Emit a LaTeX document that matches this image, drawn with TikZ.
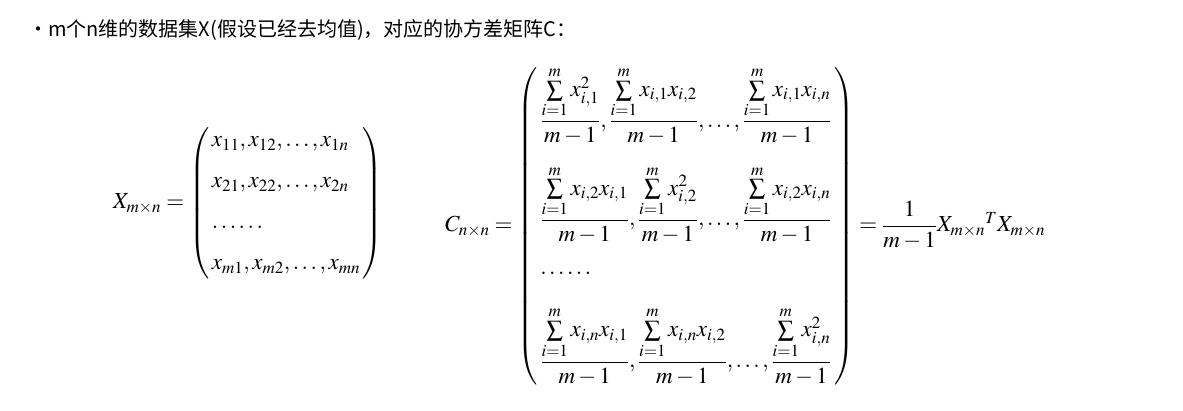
\documentclass[tikz,border=0pt]{standalone}
\usepackage{amsmath}
\usepackage{mathptmx}
\usepackage{fontspec}
\newfontfamily\cjk{Noto Sans CJK SC}
\begin{document}
\begin{tikzpicture}[x=1pt,y=-1pt,
  eq/.style={inner sep=0pt,font=\fontsize{23}{27}\selectfont}]
\useasboundingbox (0,0) rectangle (1183,411);
\node[anchor=west,inner sep=0pt,font=\cjk\fontsize{20}{24}\selectfont] (title) at (28,30) {•m个n维的数据集X(假设已经去均值)，对应的协方差矩阵C：};
\node[eq,anchor=west] (X) at (113,203) {$X_{m\times n}=\left(\begin{array}{@{\,}l@{\,}}
x_{11},x_{12},\ldots,x_{1n}\\[14pt]
x_{21},x_{22},\ldots,x_{2n}\\[14pt]
\ldots\ldots\\[14pt]
x_{m1},x_{m2},\ldots,x_{mn}
\end{array}\right)$};
\node[eq,anchor=west] (C) at (445,226) {$C_{n\times n}=\left(\begin{array}{@{\,}l@{\,}}
\dfrac{\sum\limits_{i=1}^{m}x_{i,1}^{2}}{m-1},\dfrac{\sum\limits_{i=1}^{m}x_{i,1}x_{i,2}}{m-1},\ldots,\dfrac{\sum\limits_{i=1}^{m}x_{i,1}x_{i,n}}{m-1}\\[30pt]
\dfrac{\sum\limits_{i=1}^{m}x_{i,2}x_{i,1}}{m-1},\dfrac{\sum\limits_{i=1}^{m}x_{i,2}^{2}}{m-1},\ldots,\dfrac{\sum\limits_{i=1}^{m}x_{i,2}x_{i,n}}{m-1}\\[22pt]
\ldots\ldots\\[24pt]
\dfrac{\sum\limits_{i=1}^{m}x_{i,n}x_{i,1}}{m-1},\dfrac{\sum\limits_{i=1}^{m}x_{i,n}x_{i,2}}{m-1},\ldots,\dfrac{\sum\limits_{i=1}^{m}x_{i,n}^{2}}{m-1}
\end{array}\right)=\dfrac{1}{m-1}X_{m\times n}{}^{T}X_{m\times n}$};
\end{tikzpicture}
\end{document}
